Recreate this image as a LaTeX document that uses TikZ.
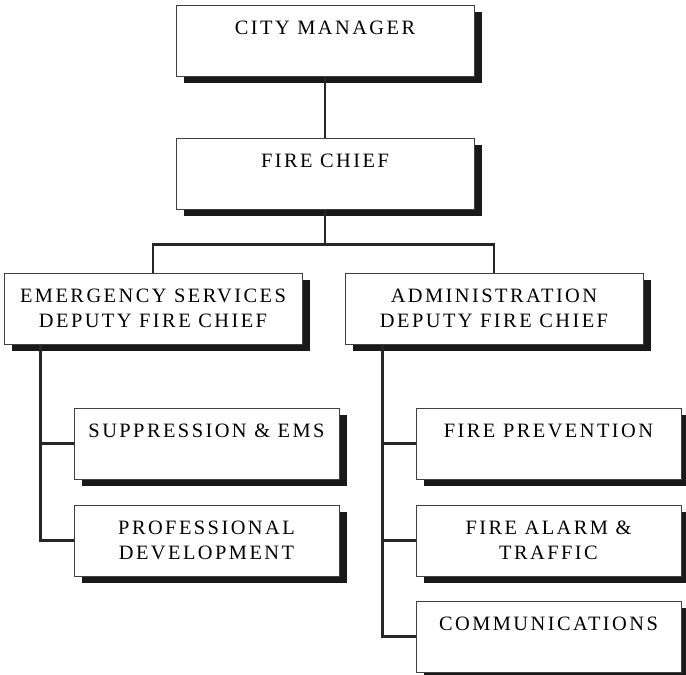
\documentclass[tikz,border=0pt]{standalone}
\usepackage{fontspec}
\setmainfont{Liberation Serif}[LetterSpace=12]
\usetikzlibrary{positioning,shadows}

\newcommand{\lstrut}{\rule[-2.5pt]{0pt}{11.75pt}}

\begin{document}
\begin{tikzpicture}[
    unit/.style={rectangle, draw=black!75, line width=0.5pt, fill=white, inner sep=0pt, align=center,
        minimum height=35.5pt, font=\fontsize{10.2}{12.5}\selectfont,
        drop shadow={shadow xshift=3.75pt, shadow yshift=-3.5pt, fill=black!90, opacity=1}},
    head/.style={unit, minimum width=149pt},
    sub/.style={unit, minimum width=132.5pt},
    link/.style={line width=1.2pt, draw=black!85}
]
    \useasboundingbox (0,0) rectangle (343pt,-337.5pt);

    \node[head] (city) at (162.5pt,-20.25pt) {\lstrut CITY MANAGER\\\lstrut};
    \node[head, below=30.5pt of city] (fire) {\lstrut FIRE CHIEF\\\lstrut};

    \node[head, below=31.5pt of fire, xshift=-86pt] (emerg) {
        \lstrut EMERGENCY SERVICES\\
        \lstrut DEPUTY FIRE CHIEF
    };
    \node[head, right=21pt of emerg] (admin) {
        \lstrut ADMINISTRATION\\
        \lstrut DEPUTY FIRE CHIEF
    };

    \node[sub, below right=31.5pt and 35pt of emerg.south west] (supp) {\lstrut SUPPRESSION \& EMS\\\lstrut};
    \node[sub, below=12.5pt of supp] (prof) {
        \lstrut PROFESSIONAL\\
        \lstrut DEVELOPMENT
    };

    \node[sub, below right=31.5pt and 35.5pt of admin.south west] (prev) {\lstrut FIRE PREVENTION\\\lstrut};
    \node[sub, below=12.5pt of prev] (alarm) {
        \lstrut FIRE ALARM \&\\
        \lstrut TRAFFIC
    };
    \node[sub, below=12pt of alarm] (comm) {\lstrut COMMUNICATIONS\\\lstrut};

    % chain of command
    \draw[link] (city) -- (fire);
    \draw[link] (fire.south) -- ++(0,-17.5pt) coordinate (bus) -| (emerg.north);
    \draw[link] (bus) -| (admin.north);

    % left division
    \coordinate[right=18.5pt of emerg.south west] (leftbar);
    \draw[link] (leftbar) |- (prof.west);
    \draw[link] (supp.west) -- (supp.west -| leftbar);

    % right division
    \coordinate[right=19pt of admin.south west] (rightbar);
    \draw[link] (rightbar) |- (comm.west);
    \draw[link] (prev.west) -- (prev.west -| rightbar);
    \draw[link] (alarm.west) -- (alarm.west -| rightbar);
\end{tikzpicture}
\end{document}
